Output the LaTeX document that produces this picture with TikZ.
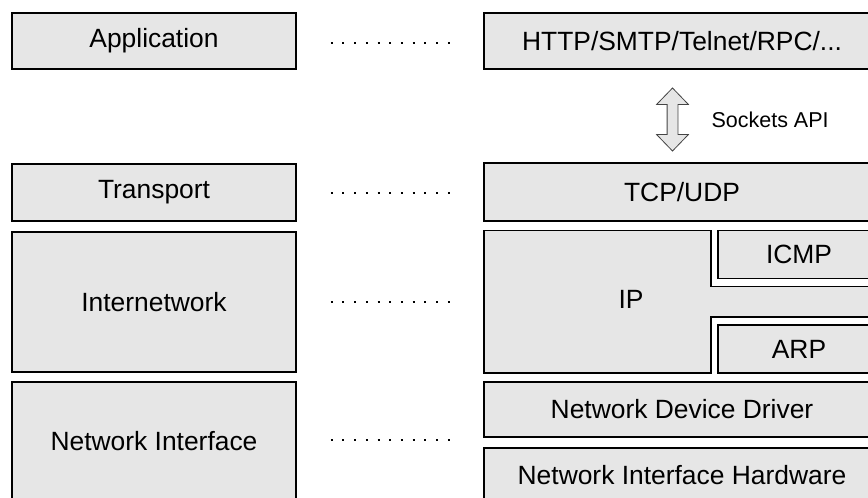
\documentclass[tikz,border=0pt]{standalone}
\usepackage{fontspec}
\setmainfont{Liberation Sans}
\usetikzlibrary{shapes.arrows}

\definecolor{boxgray}{HTML}{E6E6E6}
\definecolor{edgegray}{HTML}{444444}

\tikzset{%
  % Specifications for style of nodes:
         layer/.style = {rectangle, draw = black, line width=1.5pt, fill=boxgray, inner sep=0pt, font=\fontsize{26.4}{30}\selectfont},
          dots/.style = {line width=2pt, dash pattern=on 2pt off 9.7pt},
}

\begin{document}
\begin{tikzpicture}[x=1pt, y=-1pt]
    \useasboundingbox (0,0) rectangle (868,498);
    \clip (0,0) rectangle (868,498);

    % Draw nodes (model layers)
    \node (app)       [layer, minimum width=284pt, minimum height=56pt]  at (154,41)    {Application};
    \node (transport) [layer, minimum width=284pt, minimum height=57pt]  at (154,192.5) {Transport};
    \node (internet)  [layer, minimum width=284pt, minimum height=140pt] at (154,302)   {Internetwork};
    \node (netif)     [layer, minimum width=284pt, minimum height=118pt] at (154,441)   {Network Interface};

    % Draw nodes (protocols)
    \node (http)      [layer, minimum width=396pt, minimum height=56pt]  at (682,41)    {HTTP/SMTP/Telnet/RPC/...};
    \node (tcp)       [layer, minimum width=396pt, minimum height=58pt]  at (682,192)   {TCP/UDP};
    \draw[fill=boxgray, line width=1.5pt] (484,230.5) -- (711,230.5) -- (711,286.5) -- (880,286.5)
        -- (880,317) -- (711,317) -- (711,373) -- (484,373) -- cycle;
    \node (ip)        [font=\fontsize{26.4}{30}\selectfont]              at (631,299)   {IP};
    \node (icmp)      [layer, minimum width=162pt, minimum height=48pt]  at (799,254.5) {ICMP};
    \node (arp)       [layer, minimum width=162pt, minimum height=48pt]  at (799,349)   {ARP};
    \node (driver)    [layer, minimum width=396pt, minimum height=55pt]  at (682,409.5) {Network Device Driver};
    \node (hw)        [layer, minimum width=396pt, minimum height=54pt]  at (682,475)   {Network Interface Hardware};

    % Sockets API arrow
    \node (sockets) [double arrow, rotate=90, draw=edgegray, fill=boxgray, line width=0.8pt, inner sep=5pt,
                     minimum height=63pt, minimum width=31pt, double arrow head extend=10.5pt,
                     double arrow tip angle=88] at (672.5,119.5) {};
    \node (api) [anchor=west, font=\fontsize{21.5}{25}\selectfont] at (708,119.5) {Sockets API};

    % Draw dotted links
    \draw[dots] ([xshift=34pt,yshift=-2pt]app.east)    -- ++(119,0);
    \draw[dots] ([xshift=34pt]transport.east)          -- ++(119,0);
    \draw[dots] ([xshift=34pt]internet.east)           -- ++(119,0);
    \draw[dots] ([xshift=34pt,yshift=1pt]netif.east)   -- ++(119,0);

\end{tikzpicture}
\end{document}
